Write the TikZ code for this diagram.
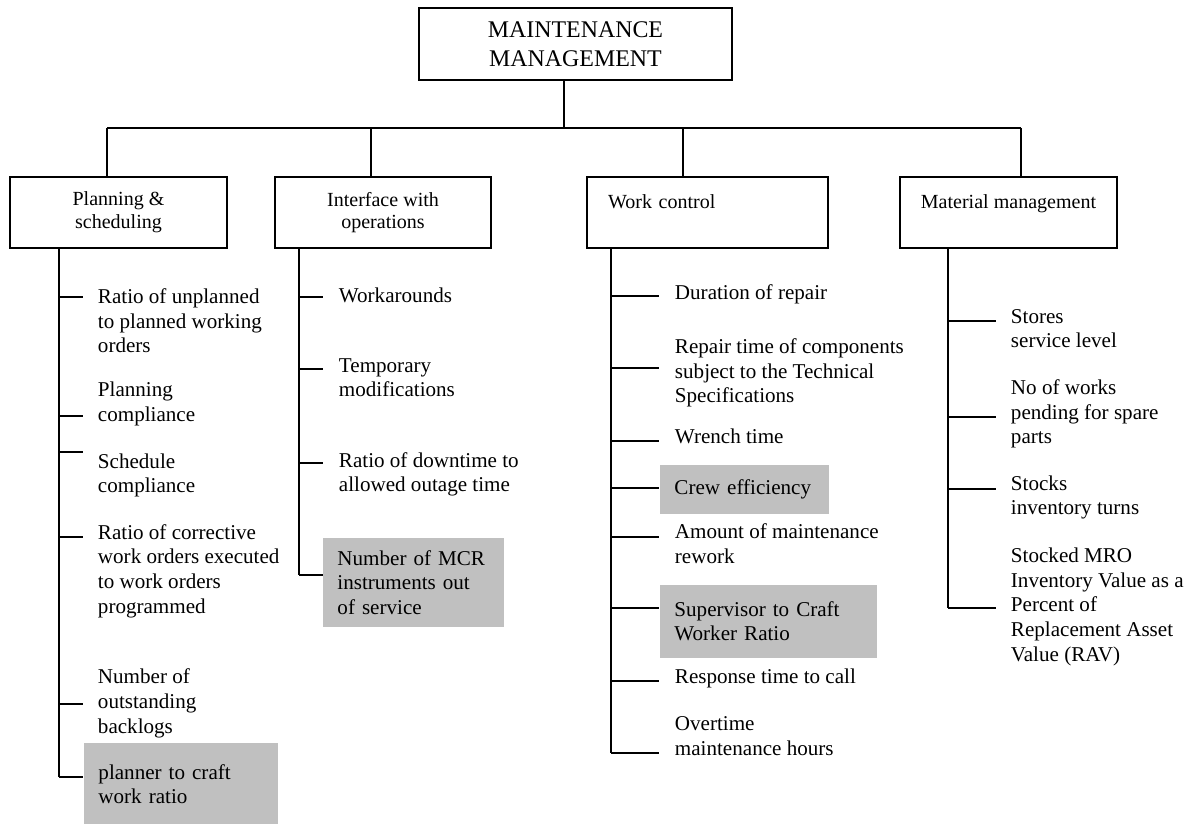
\documentclass[tikz,border=0pt]{standalone}
\usepackage{fontspec}
\setmainfont{Liberation Serif}
\definecolor{markgrey}{RGB}{192,192,192}

\begin{document}
\begin{tikzpicture}[
x=0.02cm, y=-0.02cm,
line width=1.1pt,
headbox/.style={draw, minimum width=6.26cm, minimum height=1.44cm, align=center,
  font=\fontsize{13.6}{16.4}\selectfont},
areabox/.style={draw, minimum height=1.42cm, align=center,
  font=\fontsize{11.4}{12.9}\selectfont},
kpi/.style={anchor=base west, inner sep=0pt, align=left,
  font=\fontsize{12}{13.95}\selectfont},
kpimark/.style={kpi, anchor=north west, fill=markgrey, inner xsep=0.29cm, inner ysep=0pt}
]
\useasboundingbox (0,0) rectangle (1198,824);

% top and areas
\node[headbox] (head) at (575.5,44) {MAINTENANCE\\MANAGEMENT};

\node[areabox, minimum width=4.34cm] (plan) at (118.5,212.5) {Planning \&\\scheduling};
\node[areabox, minimum width=4.32cm] (iface) at (383,212.5) {Interface with\\operations};
\node[areabox, align=left, text width=3.98cm, inner xsep=0.42cm] (work) at (707.5,212.5) {Work control\\\mbox{}};
\node[areabox, minimum width=4.34cm] (mat) at (1008.5,212.5) {Material management\\\mbox{}};

\coordinate (hub) at (564,128);
\coordinate (ja) at (107,128);
\coordinate (jb) at (371,128);
\coordinate (jc) at (683,128);
\coordinate (jd) at (1021,128);

\draw (head.south -| hub) -- (hub);
\draw (ja) -- (jd);
\foreach \j/\n in {ja/plan,jb/iface,jc/work,jd/mat}
  \draw (\j) -- (\n.north -| \j);

% planning & scheduling (base = last line)
\node[kpi] (a1) at (97,353) {Ratio of unplanned\\to planned working\\orders};
\node[kpi] (a2) at (97,421) {Planning\\compliance};
\node[kpi] (a3) at (97,493) {Schedule\\compliance};
\node[kpi] (a4) at (97,613) {Ratio of corrective\\work orders executed\\to work orders\\programmed};
\node[kpi] (a5) at (97,733) {Number of\\outstanding\\backlogs};
\node[kpimark, text width=3.3cm, minimum height=1.64cm] (a6) at (83,742) {planner to craft\\work ratio};

\coordinate (ta) at (59,777);
\draw (plan.south -| ta) -- (ta);
\foreach \y in {297,416,452,537,704,777}
  \draw (ta |- 0,\y) -- ++(24,0);

% interface with operations
\node[kpi] (b1) at (338,303) {Workarounds};
\node[kpi] (b2) at (338,397) {Temporary\\modifications};
\node[kpi] (b3) at (338,492) {Ratio of downtime to\\allowed outage time};
\node[kpimark, text width=3.04cm, minimum height=1.78cm] (b4) at (322,537) {Number of MCR\\instruments out\\of service};

\coordinate (tb) at (299,575);
\draw (iface.south -| tb) -- (tb);
\foreach \y in {297,369,463,575}
  \draw (tb |- 0,\y) -- ++(24,0);

% work control
\node[kpi] (c1) at (674,300) {Duration of repair};
\node[kpi] (c2) at (674,403) {Repair time of components\\subject to the Technical\\Specifications};
\node[kpi] (c3) at (674,443) {Wrench time};
\node[kpimark, text width=2.8cm, minimum height=0.98cm] (c4) at (659,464) {Crew efficiency};
\node[kpi] (c5) at (674,563) {Amount of maintenance\\rework};
\node[kpimark, text width=3.76cm, minimum height=1.46cm] (c6) at (659,584) {Supervisor to Craft\\Worker Ratio};
\node[kpi] (c7) at (674,683) {Response time to call};
\node[kpi] (c8) at (674,755) {Overtime\\maintenance hours};

\coordinate (tc) at (611,753);
\draw (work.south -| tc) -- (tc);
\foreach \y in {296,368,441,488,537,608,681,753}
  \draw (tc |- 0,\y) -- ++(48,0);

% material management
\node[kpi] (d1) at (1010,348) {Stores\\service level};
\node[kpi] (d2) at (1010,444) {No of works\\pending for spare\\parts};
\node[kpi] (d3) at (1010,515) {Stocks\\inventory turns};
\node[kpi] (d4) at (1010,661) {Stocked MRO\\Inventory Value as a\\Percent of\\Replacement Asset\\Value (RAV)};

\coordinate (td) at (948,608);
\draw (mat.south -| td) -- (td);
\foreach \y in {321,417,489,608}
  \draw (td |- 0,\y) -- ++(48,0);

\end{tikzpicture}
\end{document}
